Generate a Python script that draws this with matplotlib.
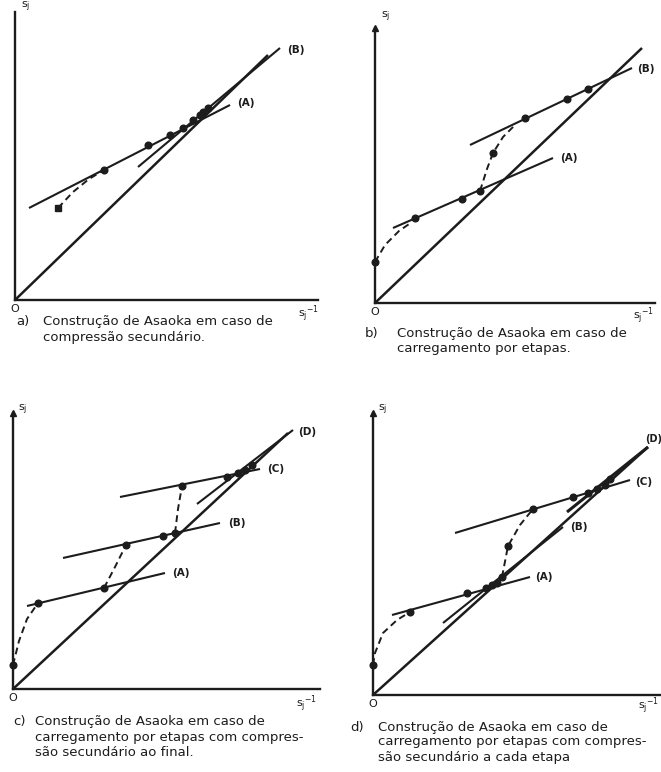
import matplotlib.pyplot as plt

plt.rcParams["font.family"] = "DejaVu Sans"
plt.rcParams["mathtext.fontset"] = "dejavusans"

INK = "#1c1c1c"
W, H = 661, 772

# a) secondary compression
a_diag_x = [0, 253]
a_diag_y = [0, 245]
a_A_x = [14, 215]
a_A_y = [92, 195]
a_B_x = [123, 265]
a_B_y = [133, 252]
a_dash_x = [43, 58, 74, 89]
a_dash_y = [92, 108, 121, 130]
a_pts_x = [89, 133, 155, 168, 178, 185, 188, 193]
a_pts_y = [130, 155, 165, 172, 180, 185, 188, 192]
a_start_x = [43]
a_start_y = [92]

# b) staged loading
b_diag_x = [0, 267]
b_diag_y = [0, 255]
b_A_x = [18, 178]
b_A_y = [75, 145]
b_B_x = [95, 257]
b_B_y = [158, 235]
b_dash1_x = [0, 10, 24, 37]
b_dash1_y = [41, 58, 72, 81]
b_dash2_x = [105, 112, 118, 128, 140]
b_dash2_y = [112, 134, 150, 166, 178]
b_pts_x = [0, 40, 87, 105, 118, 150, 192, 213]
b_pts_y = [41, 85, 104, 112, 150, 185, 204, 214]

# c) staged loading, secondary compression at the end
c_diag_x = [0, 275]
c_diag_y = [0, 256]
c_A_x = [14, 152]
c_A_y = [83, 116]
c_B_x = [50, 207]
c_B_y = [131, 166]
c_C_x = [107, 247]
c_C_y = [192, 220]
c_D_x = [184, 280]
c_D_y = [185, 259]
c_dash1_x = [0, 6, 14, 25]
c_dash1_y = [24, 48, 70, 86]
c_dash2_x = [91, 102, 113]
c_dash2_y = [101, 122, 144]
c_dash3_x = [162, 165, 169]
c_dash3_y = [156, 180, 203]
c_pts_x = [0, 25, 91, 113, 150, 162, 169, 214, 225, 232, 239]
c_pts_y = [24, 86, 101, 144, 153, 156, 203, 212, 216, 219, 224]

# d) staged loading, secondary compression at each stage
d_diag_x = [0, 275]
d_diag_y = [0, 248]
d_A_x = [19, 157]
d_A_y = [80, 118]
d_B_x = [70, 190]
d_B_y = [72, 168]
d_C_x = [82, 257]
d_C_y = [162, 215]
d_D_x = [194, 275]
d_D_y = [183, 248]
d_dash1_x = [0, 2, 10, 24, 37]
d_dash1_y = [30, 42, 62, 75, 83]
d_dash2_x = [129, 135, 147, 160]
d_dash2_y = [118, 149, 170, 186]
d_pts_x = [0, 37, 94, 113, 119, 124, 129, 135, 160, 200, 215, 224, 232, 237]
d_pts_y = [30, 83, 102, 107, 110, 112, 118, 149, 186, 198, 202, 206, 210, 216]

fig = plt.figure(figsize=(W / 100, H / 100), dpi=100)


def make_axes(ox, oy, xmax, ymax, arrow=True):
    # axes whose lower-left corner is the origin of the s_j / s_j-1 plot
    ax = fig.add_axes([ox / W, 1 - oy / H, xmax / W, ymax / H])
    ax.set_xlim(0, xmax)
    ax.set_ylim(0, ymax)
    for s in ["top", "right"]:
        ax.spines[s].set_visible(False)
    for s in ["left", "bottom"]:
        ax.spines[s].set_linewidth(1.7)
        ax.spines[s].set_color(INK)
    ax.set_xticks([])
    ax.set_yticks([])
    ax.patch.set_alpha(0)
    if arrow:
        ax.plot(0, 1, marker="^", ms=4, color=INK,
                transform=ax.get_xaxis_transform(), clip_on=False)
    ax.text(0, -9, "O", ha="center", va="center", fontsize=8, color=INK,
            clip_on=False)
    return ax


def axis_labels(ax, yl, xl):
    ax.text(yl[0], yl[1], r"s$_{\mathregular{j}}$", fontsize=8, color=INK,
            ha="left", va="center", clip_on=False)
    ax.text(xl[0], xl[1], r"s$_{\mathregular{j}}$$^{\mathregular{-1}}$",
            fontsize=8, color=INK, ha="left", va="center", clip_on=False)


def solid(ax, x, y, lw=1.5):
    ax.plot(x, y, color=INK, lw=lw, solid_capstyle="butt", clip_on=False)


def dashed(ax, x, y):
    ax.plot(x, y, color=INK, lw=1.4, ls=(0, (3.5, 2.2)), clip_on=False)


def dots(ax, x, y, marker="o", ms=4.8):
    ax.plot(x, y, ls="none", marker=marker, ms=ms, color=INK, clip_on=False)


def tag(ax, x, y, s, size=7.5):
    ax.text(x, y, s, fontsize=size, fontweight="bold", color=INK,
            ha="left", va="center", clip_on=False)


def caption(x0, x1, y, head, lines):
    fig.text(x0 / W, 1 - y / H, head, fontsize=9.5, color=INK, va="center")
    for i, ln in enumerate(lines):
        fig.text(x1 / W, 1 - (y + 15 * i) / H, ln, fontsize=9.5, color=INK,
                 va="center")


# panel a
ax = make_axes(15, 300, 303, 288, arrow=False)
solid(ax, a_diag_x, a_diag_y, 1.8)
solid(ax, a_A_x, a_A_y)
solid(ax, a_B_x, a_B_y)
dashed(ax, a_dash_x, a_dash_y)
dots(ax, a_pts_x, a_pts_y)
dots(ax, a_start_x, a_start_y, marker="s", ms=4.5)
tag(ax, 222, 197, "(A)")
tag(ax, 272, 250, "(B)")
axis_labels(ax, (6, 293), (283, -13))
caption(16, 43, 322, "a)", ["Construção de Asaoka em caso de",
                            "compressão secundário."])

# panel b
ax = make_axes(375, 303, 280, 275)
solid(ax, b_diag_x, b_diag_y, 1.8)
solid(ax, b_A_x, b_A_y)
solid(ax, b_B_x, b_B_y)
dashed(ax, b_dash1_x, b_dash1_y)
dashed(ax, b_dash2_x, b_dash2_y)
dots(ax, b_pts_x, b_pts_y)
tag(ax, 185, 145, "(A)")
tag(ax, 262, 234, "(B)")
axis_labels(ax, (6, 286), (258, -12))
caption(365, 397, 333, "b)", ["Construção de Asaoka em caso de",
                              "carregamento por etapas."])

# panel c
ax = make_axes(13, 689, 307, 276)
solid(ax, c_diag_x, c_diag_y, 1.8)
solid(ax, c_A_x, c_A_y)
solid(ax, c_B_x, c_B_y)
solid(ax, c_C_x, c_C_y)
solid(ax, c_D_x, c_D_y)
dashed(ax, c_dash1_x, c_dash1_y)
dashed(ax, c_dash2_x, c_dash2_y)
dashed(ax, c_dash3_x, c_dash3_y)
dots(ax, c_pts_x, c_pts_y)
tag(ax, 159, 116, "(A)")
tag(ax, 215, 166, "(B)")
tag(ax, 254, 220, "(C)")
tag(ax, 285, 257, "(D)")
axis_labels(ax, (5, 279), (283, -14))
caption(13, 35, 722, "c)", ["Construção de Asaoka em caso de",
                            "carregamento por etapas com compres-",
                            "são secundário ao final."])

# panel d
ax = make_axes(373, 695, 287, 282)
solid(ax, d_diag_x, d_diag_y, 1.8)
solid(ax, d_A_x, d_A_y)
solid(ax, d_B_x, d_B_y)
solid(ax, d_C_x, d_C_y)
solid(ax, d_D_x, d_D_y, 2.2)
dashed(ax, d_dash1_x, d_dash1_y)
dashed(ax, d_dash2_x, d_dash2_y)
dots(ax, d_pts_x, d_pts_y)
tag(ax, 162, 118, "(A)")
tag(ax, 197, 168, "(B)")
tag(ax, 262, 213, "(C)")
tag(ax, 272, 256, "(D)", size=7)
axis_labels(ax, (5, 285), (265, -10))
caption(350, 378, 727, "d)", ["Construção de Asaoka em caso de",
                              "carregamento por etapas com compres-",
                              "são secundário a cada etapa"])

fig.savefig("out.png", dpi=100)
